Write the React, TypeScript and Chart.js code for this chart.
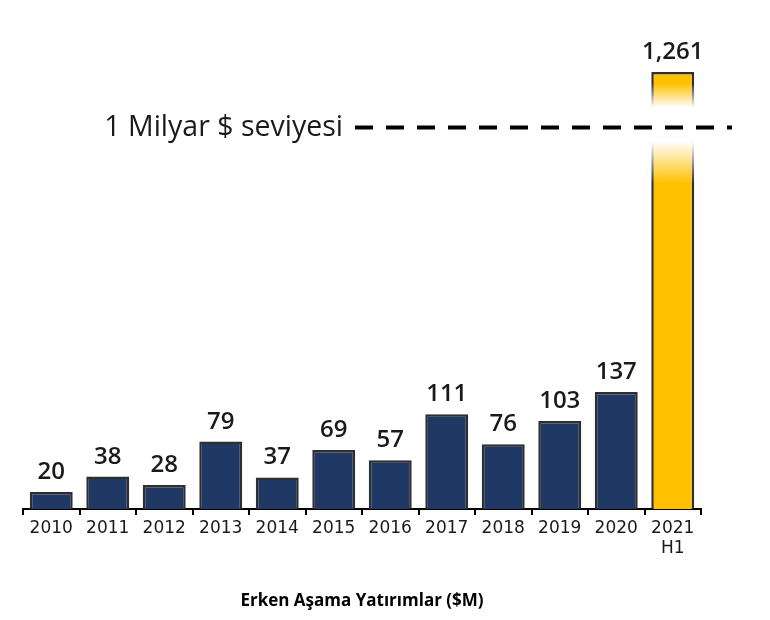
import React, { useEffect, useRef } from "react";
import { Chart, registerables } from "chart.js";

Chart.register(...registerables);

const categories: (string | string[])[] = ["2010", "2011", "2012", "2013", "2014", "2015", "2016", "2017", "2018", "2019", "2020", ["2021", "H1"]];
const investments = [20, 38, 28, 79, 37, 69, 57, 111, 76, 103, 137, 1261];
const highlightIndex = 11;
const axisBreakCap = 512; // broken axis: the 2021 H1 bar is drawn up to this level
const breakLineLevel = 447; // where the "1 Milyar $ seviyesi" marker sits on the broken axis
const breakLabel = "1 Milyar $ seviyesi";
const axisTitle = "Erken Aşama Yatırımlar ($M)";

const NAVY = "#203864";
const GOLD = "#FFC000";
const BORDER = "#2e2e2e";

const plotted = investments.map((v) => Math.min(v, axisBreakCap));

const overlayPlugin = {
  id: "overlay",
  afterDatasetsDraw(chart: any) {
    const { ctx, scales } = chart;
    const meta = chart.getDatasetMeta(0);
    const yLine = scales.y.getPixelForValue(breakLineLevel);

    // fade on the broken bar
    const bar = meta.data[highlightIndex];
    if (bar) {
      const { x, width } = bar.getProps(["x", "width"], true);
      const top = yLine - 44;
      const h = 100;
      const g = ctx.createLinearGradient(0, top, 0, top + h);
      g.addColorStop(0, "rgba(255,255,255,0)");
      g.addColorStop(0.24, "rgba(255,255,255,1)");
      g.addColorStop(0.58, "rgba(255,255,255,1)");
      g.addColorStop(1, "rgba(255,255,255,0)");
      ctx.save();
      ctx.fillStyle = g;
      ctx.fillRect(x - width / 2 - 3, top, width + 6, h);
      ctx.restore();
    }

    // dashed break line and its label
    const lineStart = 355;
    ctx.save();
    ctx.strokeStyle = "#000";
    ctx.lineWidth = 4;
    ctx.setLineDash([18, 13]);
    ctx.beginPath();
    ctx.moveTo(lineStart, yLine);
    ctx.lineTo(chart.width - 38, yLine);
    ctx.stroke();
    ctx.setLineDash([]);
    ctx.fillStyle = "#1a1a1a";
    ctx.font = "400 28.5px 'Open Sans', sans-serif";
    ctx.textAlign = "right";
    ctx.textBaseline = "middle";
    ctx.fillText(breakLabel, lineStart - 12, yLine);
    ctx.restore();

    // value labels
    ctx.save();
    ctx.fillStyle = "#1a1a1a";
    ctx.font = "600 24px 'Open Sans', sans-serif";
    ctx.textAlign = "center";
    ctx.textBaseline = "alphabetic";
    meta.data.forEach((el: any, i: number) => {
      const { x, y } = el.getProps(["x", "y"], true);
      ctx.fillText(investments[i].toLocaleString("en-US"), x, y - 13);
    });
    ctx.restore();
  },
};

export default function App() {
  const ref = useRef<HTMLCanvasElement>(null);
  useEffect(() => {
    if (!ref.current) return;
    const chart = new Chart(ref.current, {
      type: "bar",
      data: {
        labels: categories,
        datasets: [
          {
            data: plotted,
            backgroundColor: investments.map((_, i) => (i === highlightIndex ? GOLD : NAVY)),
            borderColor: BORDER,
            borderWidth: 2.5,
            borderSkipped: "bottom",
            barPercentage: 0.76,
            categoryPercentage: 1,
          },
        ],
      },
      options: {
        animation: false,
        responsive: true,
        maintainAspectRatio: false,
        layout: { padding: { top: 31, left: 23, right: 69, bottom: 0 } },
        plugins: { legend: { display: false }, tooltip: { enabled: false } },
        scales: {
          y: { display: false, min: 0, max: 560 },
          x: {
            afterFit: (scale: any) => {
              scale.height = 111;
            },
            grid: {
              offset: true,
              drawOnChartArea: false,
              drawTicks: true,
              tickLength: 6,
              color: "#000",
              lineWidth: 2,
            },
            border: { display: true, color: "#000", width: 2 },
            ticks: {
              color: "#1a1a1a",
              padding: 4,
              font: { family: "'DejaVu Sans', sans-serif", size: 17, lineHeight: 1.15 },
              maxRotation: 0,
              autoSkip: false,
            },
            title: {
              display: true,
              text: axisTitle,
              color: "#000",
              font: { family: "'Open Sans', sans-serif", size: 17, weight: "bold" },
              padding: { top: 0, bottom: 9 },
            },
          },
        },
      },
      plugins: [overlayPlugin],
    });
    return () => chart.destroy();
  }, []);
  return (
    <div style={{ position: "fixed", left: 0, top: 0, width: 770, height: 620, background: "#fff" }}>
      <canvas ref={ref} />
    </div>
  );
}
